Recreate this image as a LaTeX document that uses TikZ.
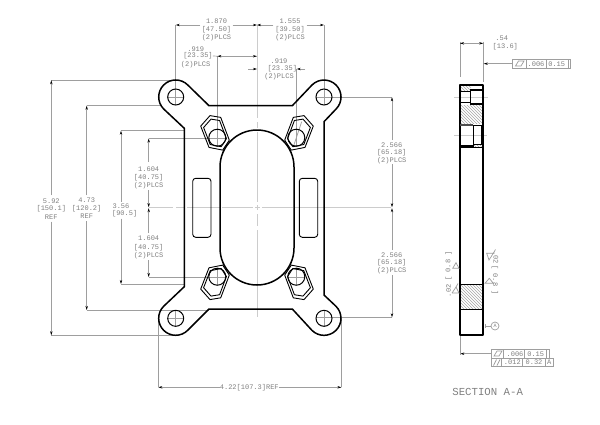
\documentclass[tikz,border=0pt]{standalone}
\usepackage{fontspec}
\setmainfont{Liberation Mono}
\usetikzlibrary{arrows.meta,patterns}
\definecolor{dim}{gray}{0.62}
\definecolor{ctr}{gray}{0.8}
\definecolor{txt}{gray}{0.5}
\tikzset{
 part/.style={draw=black,line width=1.5pt,line join=round},
 thin part/.style={draw=black,line width=0.9pt},
 dimline/.style={draw=dim,line width=0.7pt},
 dimarrow/.style={dimline,-{Stealth[black,length=4pt,width=2.4pt]}},
 dimboth/.style={dimline,{Stealth[black,length=4pt,width=2.4pt]}-{Stealth[black,length=4pt,width=2.4pt]}},
 ctrline/.style={draw=ctr,line width=1pt},
 lab/.style={font=\fontsize{7}{8}\selectfont,text=txt,inner sep=0pt},
 frm/.style={draw=dim,line width=0.7pt},
 hatchbox/.style={pattern={north west lines},pattern color=gray!70,draw=none},
}
\begin{document}
\begin{tikzpicture}[x=1pt,y=-1pt]
\useasboundingbox (0,0) rectangle (600,424);
\fill[white] (0,0) rectangle (600,424);
% centre lines
\foreach \a/\b in {25/118,122/128,132/202,205/210,214/226,230/317}
  \draw[ctrline] (257,\a) -- (257,\b);
\foreach \a/\b in {149/173,176/184,187/253,255/260,262/391}
  \draw[ctrline] (\a,207.7) -- (\b,207.7);
% extension lines
\draw[dimline] (51.3,80.3) -- (175.7,80.3);
\draw[dimline] (51.3,335.3) -- (175.7,335.3);
\draw[dimline] (86.7,105.7) -- (160,105.7);
\draw[dimline] (86.7,310) -- (209,310);
\draw[dimline] (121,130.7) -- (184.3,130.7);
\draw[dimline] (121,284) -- (184.3,284);
\draw[dimline] (148.7,138.3) -- (226,138.3);
\draw[dimline] (148.7,277) -- (226,277);
\draw[dimline] (175.7,25) -- (175.7,105);
\draw[dimline] (324,25) -- (324,105);
\draw[dimline] (217.3,56) -- (217.3,147);
\draw[dimline] (296.5,69) -- (296.5,147);
\draw[dimline] (316,97.3) -- (392,97.3);
\draw[dimline] (316,317.3) -- (392,317.3);
\draw[dimline] (158.3,320) -- (158.3,387.3);
\draw[dimline] (341.5,318) -- (341.5,387.3);
\draw[dimline] (175.7,310) -- (175.7,327);
\draw[dimline] (324,310) -- (324,327);
\draw[dimline] (167,97) -- (184,97);
\draw[dimline] (167,318.3) -- (184,318.3);
\draw[dimline] (287,277) -- (305,277);
\draw[dimline] (296.5,268) -- (296.5,286);
\draw[dimline] (217.3,268) -- (217.3,286);
\draw[dimline] (301.7,121.7) -- (293.3,146.7);
% outline
\draw[part] (209,105.7) -- (292.3,105.7) -- (312,85)
  arc (-135:45:17) -- (324,121.7) -- (324,295) -- (336,306.3)
  arc (-45:135:17) -- (292.3,309) -- (209,309) -- (187.7,330.3)
  arc (45:225:17) -- (184.3,286.7) -- (184.3,128.3) -- (163.7,109)
  arc (135:315:17) -- cycle;
% holes
\foreach \x/\y/\n in {175.7/97/a,324/97/b,175.7/318.3/c,324/318.3/d}
  \node[draw=black,line width=1pt,circle,minimum size=16pt,inner sep=0pt] (h\n) at (\x,\y) {};
\foreach \x/\y/\n in {217.3/137.7/e,296.3/137.7/f,217.3/276.7/g,296.3/276.7/h}
  \node[draw=black,line width=1pt,circle,minimum size=17pt,inner sep=0pt] (h\n) at (\x,\y) {};
% hex pockets
\foreach \s/\t in {1/1,-1/1,1/-1,-1/-1}{
\begin{scope}[shift={(257,207.6)},xscale=\s,yscale=\t]
 \draw[thin part,line join=round] (-47,-92) -- (-36.3,-90.2) -- (-27.7,-67.5) -- (-34.3,-57.5) -- (-48,-60.2) -- (-56.3,-81.5) -- cycle;
 \draw[thin part,line join=round] (-46,-88.5) -- (-37.4,-87.1) -- (-30.6,-68.9) -- (-35.8,-60.9) -- (-46.8,-63.1) -- (-53.4,-80.1) -- cycle;
\end{scope}}
% oval
\fill[white] (220,167) arc (180:360:37) -- (294,248) arc (0:180:37) -- cycle;
\draw[ctrline] (257,132) -- (257,202);
\draw[ctrline] (257,205) -- (257,210);
\draw[ctrline] (257,214) -- (257,226);
\draw[ctrline] (257,230) -- (257,284);
\draw[ctrline] (222,207.7) -- (253,207.7);
\draw[ctrline] (255,207.7) -- (260,207.7);
\draw[ctrline] (262,207.7) -- (293,207.7);
\draw[part] (220,167) arc (180:360:37) -- (294,248) arc (0:180:37) -- cycle;
% slots
\draw[thin part,rounded corners=3pt] (192.7,178.3) rectangle (211,237.3);
\draw[thin part,rounded corners=3pt] (299.3,178.3) rectangle (317.7,237.3);
% top dims
\node[lab] (t1a) at (216.5,21) {1.870};
\node[lab] (t1b) at (216.5,30) {[47.50]};
\node[lab] (t1c) at (216.5,38) {(2)PLCS};
\coordinate (d1a) at (175.7,25); \coordinate (d1b) at (257,25);
\draw[dimarrow] (200,25) -- (d1a);
\draw[dimarrow] (232.7,25) -- (d1b);
\node[lab] (t2a) at (290,21) {1.555};
\node[lab] (t2b) at (290,30) {[39.50]};
\node[lab] (t2c) at (290,38) {(2)PLCS};
\coordinate (d2a) at (257,25); \coordinate (d2b) at (324,25);
\draw[dimarrow] (273.3,25) -- (d2a);
\draw[dimarrow] (306.7,25) -- (d2b);
\node[lab] (t3a) at (195.7,48.7) {.919};
\node[lab] (t3b) at (198,56) {[23.35]};
\node[lab] (t3c) at (195.7,64.3) {(2)PLCS};
\draw[dimboth] (217.3,56.2) -- (257,56.2);
\draw[dimline] (t3b.east) -- (217.3,56.2);
\node[lab] (t4a) at (279,61.3) {.919};
\node[lab] (t4b) at (282.3,69) {[23.35]};
\node[lab] (t4c) at (279,77) {(2)PLCS};
\draw[dimarrow] (248,69) -- (257,69);
\draw[dimarrow] (305,69) -- (296.7,69);
% left dims
\node[lab] (t5a) at (51.3,201.3) {5.92};
\node[lab] (t5b) at (51.3,209) {[150.1]};
\node[lab] (t5c) at (51.3,216.7) {REF};
\draw[dimarrow] (51.3,195) -- (51.3,80.3);
\draw[dimarrow] (51.3,221.7) -- (51.3,335.3);
\node[lab] (t6a) at (86.7,200.3) {4.73};
\node[lab] (t6b) at (86.7,208.3) {[120.2]};
\node[lab] (t6c) at (86.7,216) {REF};
\draw[dimarrow] (86.7,195) -- (86.7,105.7);
\draw[dimarrow] (86.7,221) -- (86.7,310);
\node[lab] (t7a) at (121,206) {3.56};
\node[lab] (t7b) at (124.7,214) {[90.5]};
\draw[dimarrow] (121,201.7) -- (121,130.7);
\draw[dimarrow] (121,218.5) -- (121,284);
\node[lab] (t8a) at (148.7,168.7) {1.604};
\node[lab] (t8b) at (148.7,178) {[40.75]};
\node[lab] (t8c) at (148.7,186) {(2)PLCS};
\draw[dimarrow] (148.7,161.7) -- (148.7,138.5);
\draw[dimarrow] (148.7,190) -- (148.7,207.2);
\node[lab] (t9a) at (148.7,238) {1.604};
\node[lab] (t9b) at (148.7,247.3) {[40.75]};
\node[lab] (t9c) at (148.7,255.3) {(2)PLCS};
\draw[dimarrow] (148.7,233) -- (148.7,208.2);
\draw[dimarrow] (148.7,260) -- (148.7,277);
% right dims
\node[lab] (t10a) at (391.7,145) {2.566};
\node[lab] (t10b) at (391.7,152.3) {[65.18]};
\node[lab] (t10c) at (391.7,160.3) {(2)PLCS};
\draw[dimarrow] (392,140) -- (392,97.3);
\draw[dimarrow] (392,164) -- (392,207.2);
\node[lab] (t11a) at (391.7,255) {2.566};
\node[lab] (t11b) at (391.7,262.7) {[65.18]};
\node[lab] (t11c) at (391.7,270.7) {(2)PLCS};
\draw[dimarrow] (392,250) -- (392,208.2);
\draw[dimarrow] (392,275) -- (392,317.3);
% bottom dim
\node[lab] (t12) at (249.3,387.3) {4.22[107.3]REF};
\draw[dimarrow] (t12.west) -- (158.3,387.3);
\draw[dimarrow] (t12.east) -- (341.5,387.3);
% ---- section view
\draw[hatchbox] (460.5,85.5) rectangle (470.5,90.7);
\draw[hatchbox] (460.5,105) rectangle (483,123.5);
\draw[hatchbox] (473.5,144) rectangle (481.5,147.5);
\draw[hatchbox] (460.5,284.5) rectangle (483,309.5);
\draw[ctrline] (454,97.3) -- (488.3,97.3);
\draw[ctrline] (454,135) -- (486.7,135);
\draw[part] (460,85) rectangle (483.2,335);
\draw[thin part] (460,91) -- (470.3,91);
\draw[thin part] (460,102) -- (470.3,102);
\draw[thin part] (470.3,89.5) rectangle (483.2,104.5);
\fill[black] (470.3,89.3) rectangle (483.2,91.3);
\fill[black] (470.3,103.3) rectangle (483.2,105.3);
\fill[black!70] (460,123.5) rectangle (473.3,126);
\draw[thin part] (473.3,125) rectangle (481,144);
\draw[thin part] (473.3,125) -- (473.3,146.5);
\draw[thin part] (481,132) -- (483.2,132);
\fill[black] (460,145) rectangle (473.3,146.8);
\draw[thin part] (460,147.7) -- (483.2,147.7);
\draw[part] (460,284.3) -- (483.2,284.3);
\draw[part] (460,309.7) -- (483.2,309.7);
% surface symbols and their values
\draw[frm] (452.7,268.3) -- (459,268.3) -- (456,262.7) -- cycle;
\draw[frm] (452,293) -- (459,293) -- (456,287) -- (458,283.5);
\draw[frm] (452,293) -- (456,287);
\draw[frm] (486.7,253.3) -- (493.3,253.3) -- (489,260) -- cycle;
\draw[frm] (493.3,253.3) -- (495.5,249.5);
\draw[frm] (485,283.3) -- (493.3,283.3) -- (489.3,278.3) -- cycle;
\node[lab,rotate=90] (w1) at (448.5,266) {[ 0.8 ]};
\node[lab,rotate=90] (w2) at (448.5,290.7) {.02};
\node[lab,rotate=-90] (w3) at (496,257.3) {.02};
\node[lab,rotate=-90] (w4) at (495,280) {[ 0.8 ]};
% .54
\coordinate (e1) at (460,43.3); \coordinate (e2) at (483.3,43.3);
\draw[dimline] (460,41.7) -- (460,76.7);
\draw[dimline] (483.3,41.7) -- (483.3,82.3);
\draw[dimarrow] (467,43.3) -- (e1);
\draw[dimarrow] (476,43.3) -- (e2);
\draw[dimline] (467,43.3) -- (476,43.3);
\node[lab] (t13a) at (501.7,38.7) {.54};
\node[lab] (t13b) at (505.3,47) {[13.6]};
% top FCF
\draw[frm] (512.7,59.3) rectangle (570.7,68);
\draw[frm] (526,59.3) -- (526,68);
\draw[frm] (546,59.3) -- (546,68);
\draw[frm] (568,59.3) -- (568,68);
\draw[frm] (515.5,66) -- (518.5,61) -- (524,61) -- (521,66) -- cycle;
\node[lab] (t14a) at (536,63.7) {.006};
\node[lab] (t14b) at (556.7,63.7) {0.15};
\draw[dimarrow] (512.7,63.7) -- (483.7,63.7);
% bottom FCF
\draw[frm] (491.3,349.3) rectangle (549.3,358);
\draw[frm] (503.3,349.3) -- (503.3,358);
\draw[frm] (524.7,349.3) -- (524.7,358);
\draw[frm] (546.7,349.3) -- (546.7,358);
\draw[frm] (491.3,358) rectangle (553.3,366.7);
\draw[frm] (501.7,358) -- (501.7,366.7);
\draw[frm] (522.7,358) -- (522.7,366.7);
\draw[frm] (545,358) -- (545,366.7);
\draw[frm] (494,356) -- (497,351) -- (502,351) -- (499,356) -- cycle;
\draw[frm] (493.5,365.5) -- (496.5,359.5);
\draw[frm] (497,365.5) -- (500,359.5);
\node[lab] (t15a) at (515,353.7) {.006};
\node[lab] (t15b) at (535.7,353.7) {0.15};
\node[lab] (t15c) at (512.3,362.4) {.012};
\node[lab] (t15d) at (534,362.4) {0.32};
\node[lab] (t15e) at (549.3,362.4) {A};
\draw[dimarrow] (491.3,353.7) -- (460.3,353.7);
\draw[dimline] (460,336) -- (460,355);
% datum
\node[draw=dim,line width=0.7pt,circle,minimum size=8pt,inner sep=0pt,lab] (da) at (495,326) {\fontsize{5}{5}\selectfont A};
\draw[dimline] (485,326) -- (da);
\draw[dimline] (485,324) -- (485,328);
% section label
\node[font=\fontsize{10.7}{12}\selectfont,text=txt,inner sep=0pt] (sec) at (487.7,392.3) {SECTION A-A};
\end{tikzpicture}
\end{document}
